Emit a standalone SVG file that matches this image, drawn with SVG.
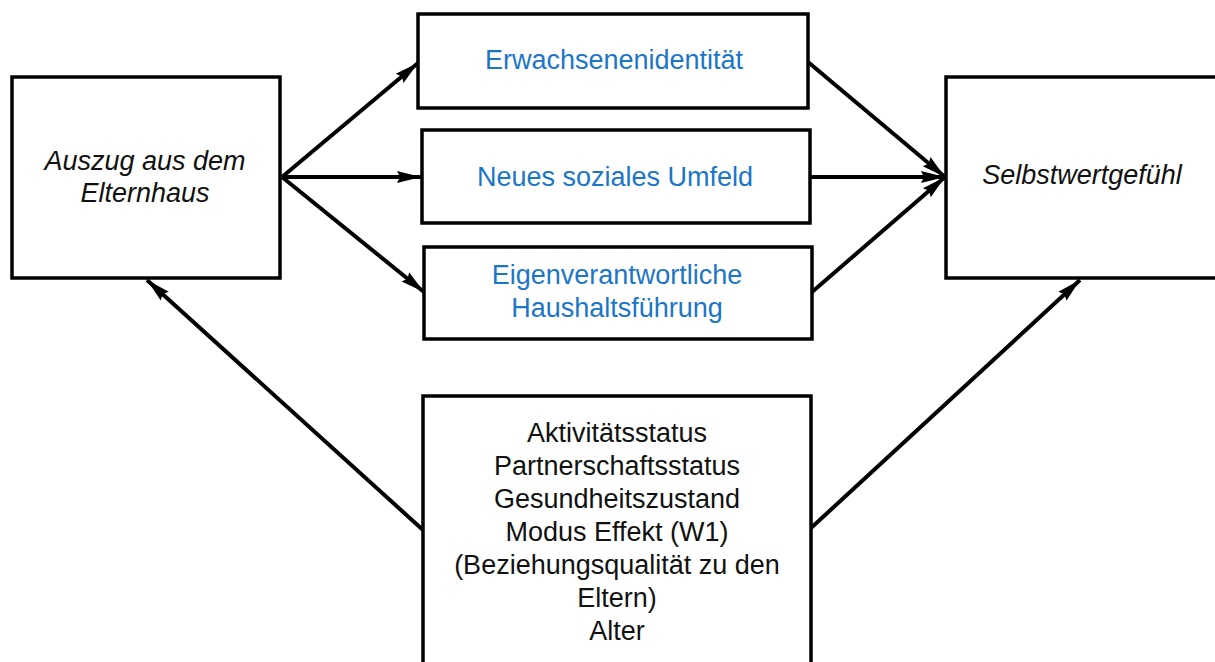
<svg xmlns="http://www.w3.org/2000/svg" width="1215" height="662" viewBox="0 0 1215 662">
<defs>
<marker id="ah" markerUnits="userSpaceOnUse" markerWidth="26" markerHeight="14" refX="24" refY="7" orient="auto">
<path d="M0,1 L24,7 L0,13 L3,7 Z" fill="#000"/>
</marker>
<style>
.box{fill:#fff;stroke:#000;stroke-width:3.5}
.t{font-family:"Liberation Sans",Arial,sans-serif;font-size:27px;text-anchor:middle;fill:#111}
.i{font-style:italic}
.b{fill:#1b76c8}
.c{stroke:#000;stroke-width:4;fill:none;marker-end:url(#ah)}
</style>
</defs>
<rect width="1215" height="662" fill="#fff"/>
<g id="connectors">
<line class="c" x1="282" y1="177" x2="418" y2="63"/>
<line class="c" x1="282" y1="177" x2="421" y2="177"/>
<line class="c" x1="282" y1="177" x2="424" y2="292"/>
<line class="c" x1="808" y1="62" x2="945" y2="177"/>
<line class="c" x1="810" y1="177" x2="945" y2="177"/>
<line class="c" x1="812" y1="292" x2="945" y2="177"/>
<line class="c" x1="423" y1="530" x2="147" y2="280"/>
<line class="c" x1="811" y1="528" x2="1080" y2="280"/>
</g>
<g id="auszug">
<rect class="box" x="12" y="77" width="268" height="201"/>
<text class="t i" x="145" y="170">Auszug aus dem</text>
<text class="t i" x="145" y="202">Elternhaus</text>
</g>
<g id="erwachsenenidentitaet">
<rect class="box" x="418" y="14" width="390" height="94"/>
<text class="t b" x="614" y="69">Erwachsenenidentität</text>
</g>
<g id="soziales-umfeld">
<rect class="box" x="422" y="130" width="388" height="93"/>
<text class="t b" x="615" y="186">Neues soziales Umfeld</text>
</g>
<g id="haushaltsfuehrung">
<rect class="box" x="424" y="247" width="388" height="92"/>
<text class="t b" x="617" y="284">Eigenverantwortliche</text>
<text class="t b" x="617" y="317">Haushaltsführung</text>
</g>
<g id="selbstwert">
<rect class="box" x="946" y="77" width="280" height="201"/>
<text class="t i" x="1082" y="184">Selbstwertgefühl</text>
</g>
<g id="kontrollen">
<rect class="box" x="423" y="396" width="388" height="290"/>
<text class="t" x="617" y="442">Aktivitätsstatus</text>
<text class="t" x="617" y="475">Partnerschaftsstatus</text>
<text class="t" x="617" y="508">Gesundheitszustand</text>
<text class="t" x="617" y="541">Modus Effekt (W1)</text>
<text class="t" x="617" y="574">(Beziehungsqualität zu den</text>
<text class="t" x="617" y="607">Eltern)</text>
<text class="t" x="617" y="640">Alter</text>
</g>
</svg>
